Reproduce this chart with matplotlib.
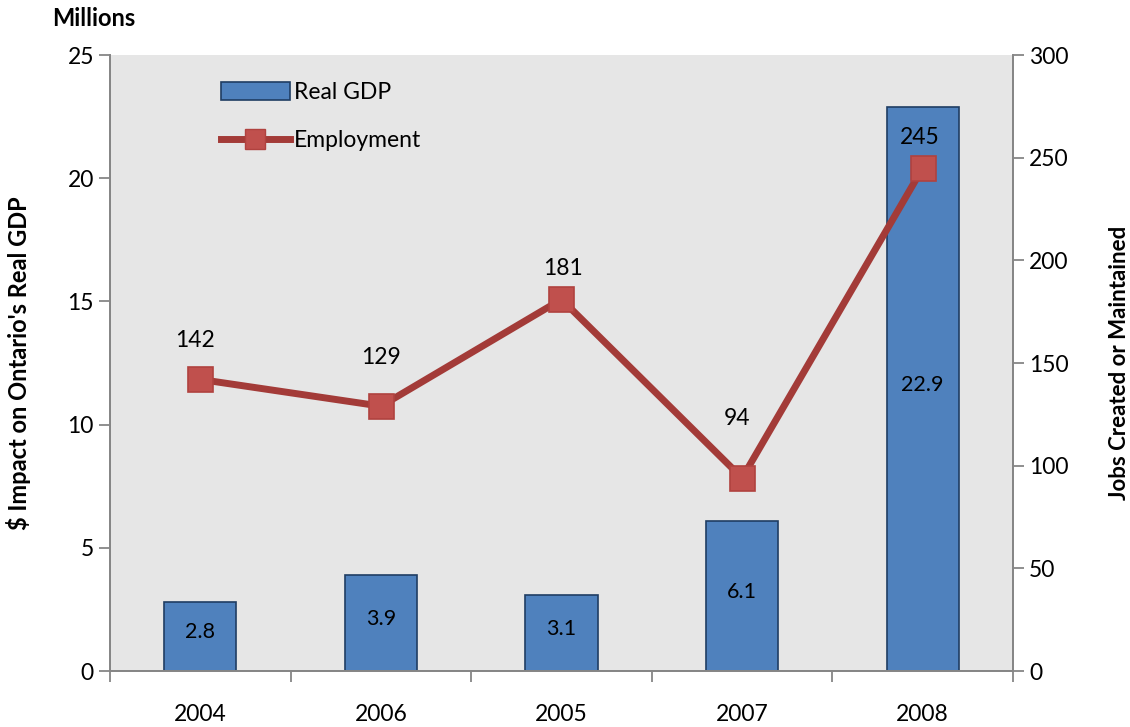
import matplotlib.pyplot as plt
from matplotlib.lines import Line2D
from matplotlib.patches import Patch

plt.rcParams['font.family'] = ['Lato', 'DejaVu Sans']

years = ['2004', '2006', '2005', '2007', '2008']
gdp = [2.8, 3.9, 3.1, 6.1, 22.9]
jobs = [142, 129, 181, 94, 245]
x = list(range(len(years)))

# hand-placed offsets (points) for the employment labels
job_label_dx = [-4, 0, 1, -4, -2]
job_label_dy = [28, 35, 22, 43, 22]

bar_color = '#4f81bd'
bar_edge = '#1f3d63'
line_color = '#a33b38'
marker_face = '#c0504d'
axis_gray = '#868686'

fig = plt.figure(figsize=(11.3, 7.27), dpi=100)
ax1 = fig.add_axes([0.0973, 0.077, 0.7992, 0.8473])
ax1.set_facecolor('#e6e6e6')
ax2 = ax1.twinx()

ax1.bar(x, gdp, width=0.4, color=bar_color, edgecolor=bar_edge, linewidth=1.2, zorder=2)
for xi, v in zip(x, gdp):
    ax1.annotate(f'{v:.1f}', (xi, v / 2), xytext=(0, 3), textcoords='offset points',
                 ha='center', va='center', fontsize=15.5)

ax2.plot(x, jobs, color=line_color, linewidth=5, marker='s', markersize=18,
         markerfacecolor=marker_face, markeredgecolor='#b0423f', markeredgewidth=1.2, zorder=3)
for xi, v, dx, dy in zip(x, jobs, job_label_dx, job_label_dy):
    ax2.annotate(str(v), (xi, v), xytext=(dx, dy), textcoords='offset points',
                 ha='center', va='center', fontsize=16.5)

ax1.set_xlim(-0.5, 4.5)
ax1.set_ylim(0, 25)
ax2.set_ylim(0, 300)
ax1.set_yticks([0, 5, 10, 15, 20, 25])
ax2.set_yticks([0, 50, 100, 150, 200, 250, 300])

# category ticks sit between the bars, labels under the bars
ax1.set_xticks([-0.5, 0.5, 1.5, 2.5, 3.5, 4.5])
ax1.set_xticklabels([])
ax1.set_xticks(x, minor=True)
ax1.set_xticklabels(years, minor=True, fontsize=16.5)
ax1.tick_params(axis='x', which='minor', length=0, pad=24)
ax1.tick_params(axis='x', which='major', direction='out', length=8, color=axis_gray, width=1.3)

ax1.tick_params(axis='y', labelsize=16.5, direction='out', length=8, color=axis_gray, width=1.3)
ax2.tick_params(axis='y', labelsize=16.5, direction='out', length=8, color=axis_gray, width=1.3)

for ax in (ax1, ax2):
    ax.spines['top'].set_visible(False)
    for s in ('left', 'right', 'bottom'):
        ax.spines[s].set_color(axis_gray)
        ax.spines[s].set_linewidth(1.3)

ax1.set_ylabel("$ Impact on Ontario's Real GDP", fontsize=17, fontweight='bold', labelpad=26)
ax2.set_ylabel('Jobs Created or Maintained', fontsize=16, fontweight='bold', labelpad=29,
               rotation=90)
fig.text(0.046, 0.975, 'Millions', fontsize=17, fontweight='bold', ha='left', va='center')

handles = [Patch(facecolor=bar_color, edgecolor=bar_edge, linewidth=1.2),
           Line2D([0], [0], color=line_color, linewidth=5, marker='s', markersize=15,
                  markerfacecolor=marker_face, markeredgecolor='#b0423f')]
ax1.legend(handles, ['Real GDP', 'Employment'], loc='upper left', bbox_to_anchor=(0.1, 0.99),
           frameon=False, fontsize=16.5, handlelength=3, handleheight=0.8,
           handletextpad=0.2, labelspacing=1.2)

fig.savefig('out.png', dpi=100)
